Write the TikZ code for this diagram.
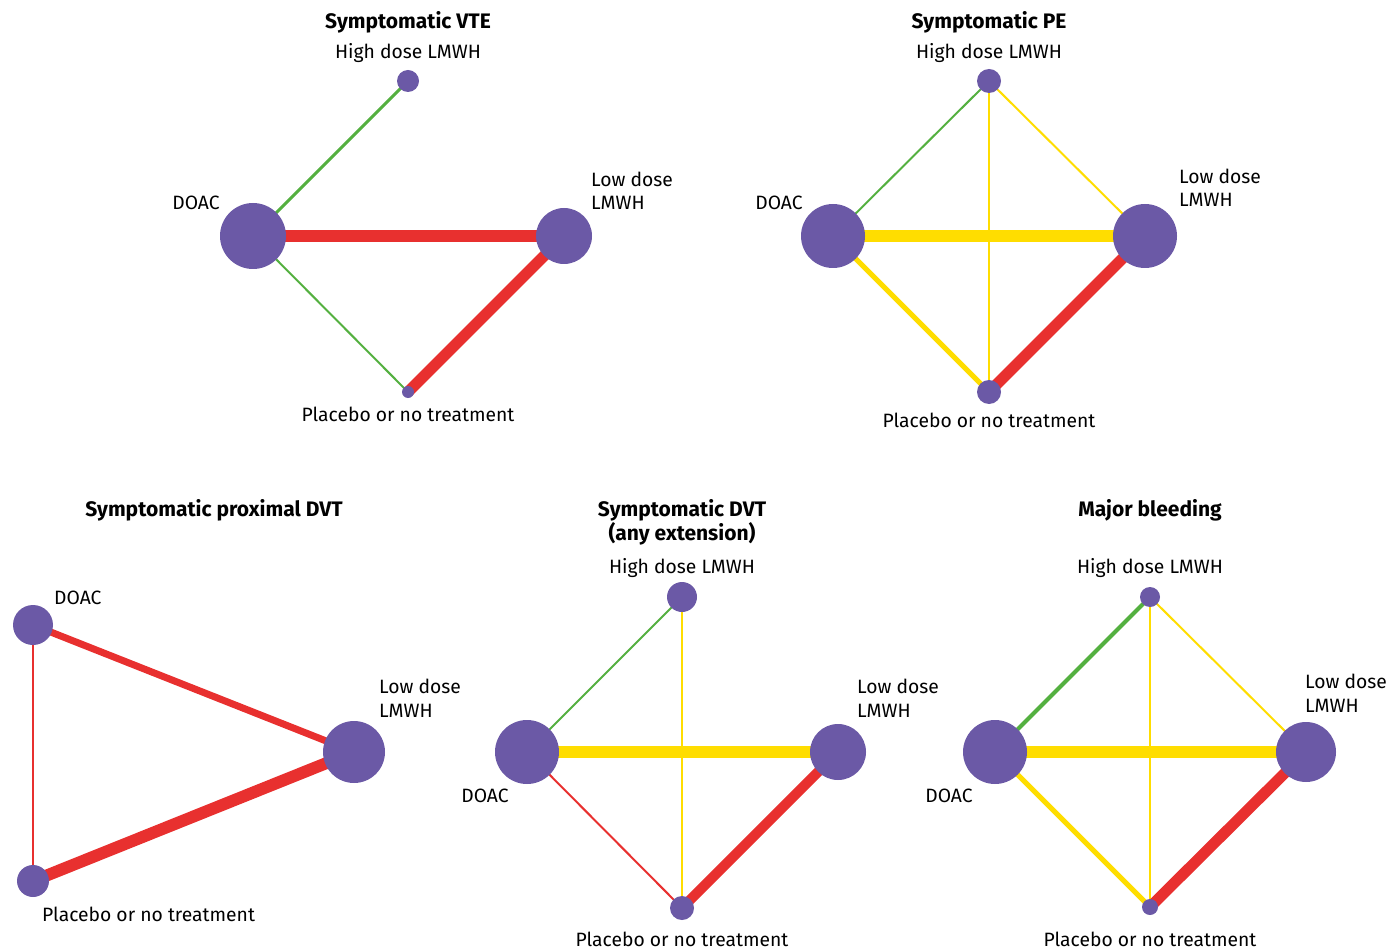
\documentclass[tikz,border=0pt]{standalone}
\usepackage{fontspec}
\setmainfont{Fira Sans}
\usetikzlibrary{backgrounds}
\definecolor{netpurple}{RGB}{107,89,166}
\definecolor{netred}{RGB}{232,48,47}
\definecolor{netgreen}{RGB}{84,176,64}
\definecolor{netyellow}{RGB}{255,221,0}
\tikzset{
  trt/.style={circle, fill=netpurple, inner sep=0pt, minimum size=#1},
  lbl/.style={font=\fontsize{19.3}{23.5}\selectfont, inner sep=0pt, anchor=base},
  lbll/.style={lbl, anchor=base west, align=left},
  ttl/.style={font=\bfseries\fontsize{21}{24}\selectfont, inner sep=0pt, anchor=base, align=center},
  redge/.style={netred, line width=#1},
  gedge/.style={netgreen, line width=#1},
  yedge/.style={netyellow, line width=#1}
}

\begin{document}
\begin{tikzpicture}[x=1pt, y=-1pt]
\useasboundingbox (0,0) rectangle (1388,949);
% Symptomatic VTE
\node[ttl] (t1) at (408,29) {Symptomatic VTE};
\node[trt=22] (h1) at (408,81) {};
\node[trt=66] (d1) at (253,236) {};
\node[trt=56] (l1) at (564,236) {};
\node[trt=12] (p1) at (408,392) {};
\node[lbl] (hl1) at (408,59) {High dose LMWH};
\node[lbl] (dl1) at (196,210) {DOAC};
\node[lbll] (ll1) at (591,210) {Low dose\\LMWH};
\node[lbl] (pl1) at (408,421) {Placebo or no treatment};
\begin{scope}[on background layer]
\draw[gedge=3] (d1.center) -- (h1.center);
\draw[redge=12] (d1.center) -- (l1.center);
\draw[gedge=2] (d1.center) -- (p1.center);
\draw[redge=11] (l1.center) -- (p1.center);
\end{scope}
% Symptomatic PE
\node[ttl] (t2) at (989,29) {Symptomatic PE};
\node[trt=24] (h2) at (989,81) {};
\node[trt=64] (d2) at (833,236) {};
\node[trt=64] (l2) at (1145,236) {};
\node[trt=24] (p2) at (989,392) {};
\node[lbl] (hl2) at (989,59) {High dose LMWH};
\node[lbl] (dl2) at (779,210) {DOAC};
\node[lbll] (ll2) at (1179,207) {Low dose\\LMWH};
\node[lbl] (pl2) at (989,427) {Placebo or no treatment};
\begin{scope}[on background layer]
\draw[gedge=2] (d2.center) -- (h2.center);
\draw[yedge=2] (h2.center) -- (l2.center);
\draw[yedge=2.5] (h2.center) -- (p2.center);
\draw[yedge=12] (d2.center) -- (l2.center);
\draw[yedge=5] (d2.center) -- (p2.center);
\draw[redge=11] (l2.center) -- (p2.center);
\end{scope}
% Symptomatic proximal DVT
\node[ttl] (t3) at (214,516) {Symptomatic proximal DVT};
\node[trt=40] (d3) at (33,625) {};
\node[trt=62] (l3) at (354,752) {};
\node[trt=32] (p3) at (33,881) {};
\node[lbll] (dl3) at (54,604) {DOAC};
\node[lbll] (ll3) at (379,717) {Low dose\\LMWH};
\node[lbll] (pl3) at (42,921) {Placebo or no treatment};
\begin{scope}[on background layer]
\draw[redge=7] (d3.center) -- (l3.center);
\draw[redge=12] (l3.center) -- (p3.center);
\draw[redge=2] (d3.center) -- (p3.center);
\end{scope}
% Symptomatic DVT (any extension)
\node[ttl] (t4) at (682,540) {Symptomatic DVT\\(any extension)};
\node[trt=30] (h4) at (682,597) {};
\node[trt=64] (d4) at (527,752) {};
\node[trt=56] (l4) at (838,752) {};
\node[trt=24] (p4) at (682,908) {};
\node[lbl] (hl4) at (682,573) {High dose LMWH};
\node[lbl] (dl4) at (485,802) {DOAC};
\node[lbll] (ll4) at (857,717) {Low dose\\LMWH};
\node[lbl] (pl4) at (682,946) {Placebo or no treatment};
\begin{scope}[on background layer]
\draw[gedge=2] (d4.center) -- (h4.center);
\draw[yedge=2] (h4.center) -- (p4.center);
\draw[yedge=12] (d4.center) -- (l4.center);
\draw[redge=2] (d4.center) -- (p4.center);
\draw[redge=10] (l4.center) -- (p4.center);
\end{scope}
% Major bleeding
\node[ttl] (t5) at (1150,516) {Major bleeding};
\node[trt=20] (h5) at (1150,597) {};
\node[trt=64] (d5) at (995,752) {};
\node[trt=60] (l5) at (1306,752) {};
\node[trt=16] (p5) at (1150,907) {};
\node[lbl] (hl5) at (1150,573) {High dose LMWH};
\node[lbl] (dl5) at (949,802) {DOAC};
\node[lbll] (ll5) at (1305,712) {Low dose\\LMWH};
\node[lbl] (pl5) at (1150,946) {Placebo or no treatment};
\begin{scope}[on background layer]
\draw[gedge=4] (d5.center) -- (h5.center);
\draw[yedge=2] (h5.center) -- (l5.center);
\draw[yedge=1.5] (h5.center) -- (p5.center);
\draw[yedge=12] (d5.center) -- (l5.center);
\draw[yedge=5] (d5.center) -- (p5.center);
\draw[redge=11] (l5.center) -- (p5.center);
\end{scope}
\end{tikzpicture}
\end{document}
